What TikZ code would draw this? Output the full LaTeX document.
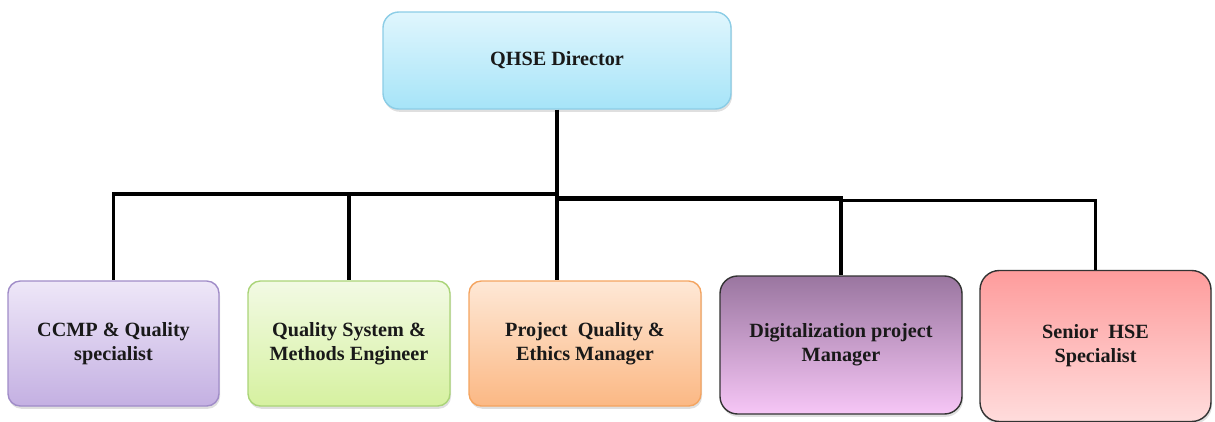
\documentclass[tikz,border=0pt]{standalone}
\usepackage{fontspec}
\setmainfont{Liberation Serif}
\usetikzlibrary{shadows}

\definecolor{dirtop}{RGB}{224, 246, 253}
\definecolor{dirbot}{RGB}{166, 228, 248}
\definecolor{dirline}{RGB}{140, 205, 230}
\definecolor{lavtop}{RGB}{238, 231, 248}
\definecolor{lavbot}{RGB}{196, 176, 226}
\definecolor{lavline}{RGB}{160, 140, 200}
\definecolor{limtop}{RGB}{242, 250, 228}
\definecolor{limbot}{RGB}{214, 241, 160}
\definecolor{limline}{RGB}{170, 212, 120}
\definecolor{ortop}{RGB}{254, 232, 214}
\definecolor{orbot}{RGB}{251, 184, 132}
\definecolor{orline}{RGB}{244, 164, 96}
\definecolor{plumtop}{RGB}{154, 118, 160}
\definecolor{plumbot}{RGB}{246, 198, 246}
\definecolor{pinktop}{RGB}{254, 156, 156}
\definecolor{pinkbot}{RGB}{255, 220, 220}

\begin{document}
\begin{tikzpicture}[
    post/.style={rectangle, rounded corners=7pt, align=center,
                 font=\fontsize{11.5}{13.8}\selectfont\bfseries, text=black!90,
                 line width=0.8pt, inner sep=2pt,
                 drop shadow={opacity=0.25, shadow xshift=0.6pt, shadow yshift=-1.6pt}},
    link/.style={line width=2.2pt, black}
  ]
    \useasboundingbox (0,0) rectangle (24.3,-8.42);

    % Director
    \node[post, minimum width=6.96cm, minimum height=1.94cm, rounded corners=9pt,
          draw=dirline, top color=dirtop, bottom color=dirbot] (dir) at (11.14,-1.21) {QHSE Director};

    % Staff row
    \node[post, minimum width=4.22cm, minimum height=2.5cm,
          draw=lavline, top color=lavtop, bottom color=lavbot] (ccmp) at (2.27,-6.87) {CCMP \& Quality\\specialist};
    \node[post, minimum width=4.04cm, minimum height=2.5cm,
          draw=limline, top color=limtop, bottom color=limbot] (qsme) at (6.98,-6.87) {Quality System \&\\Methods Engineer};
    \node[post, minimum width=4.64cm, minimum height=2.5cm,
          draw=orline, top color=ortop, bottom color=orbot] (pqem) at (11.7,-6.87) {Project~~Quality \&\\Ethics Manager};
    \node[post, minimum width=4.84cm, minimum height=2.76cm, rounded corners=10pt,
          draw=black!80, top color=plumtop, bottom color=plumbot] (digi) at (16.82,-6.90) {Digitalization project\\Manager};
    \node[post, minimum width=4.62cm, minimum height=3.02cm, rounded corners=11pt,
          draw=black!80, top color=pinktop, bottom color=pinkbot] (hse) at (21.91,-6.92) {Senior~~HSE\\Specialist};

    % Bus levels
    \coordinate (busL) at (0,-3.88);
    \coordinate (busR) at (0,-3.97);
    \coordinate (busF) at (0,-4.01);

    % Connectors
    \draw[link] (dir.south) -- (dir.south |- pqem.north);
    \draw[link] (dir.south |- busL) -| (ccmp.north);
    \draw[link] (dir.south |- busL) -| (qsme.north);
    \draw[link, line width=2.8pt] (dir.south |- busR) -| (digi.north);
    \draw[link] (digi.north |- busF) -| (hse.north);
\end{tikzpicture}
\end{document}
